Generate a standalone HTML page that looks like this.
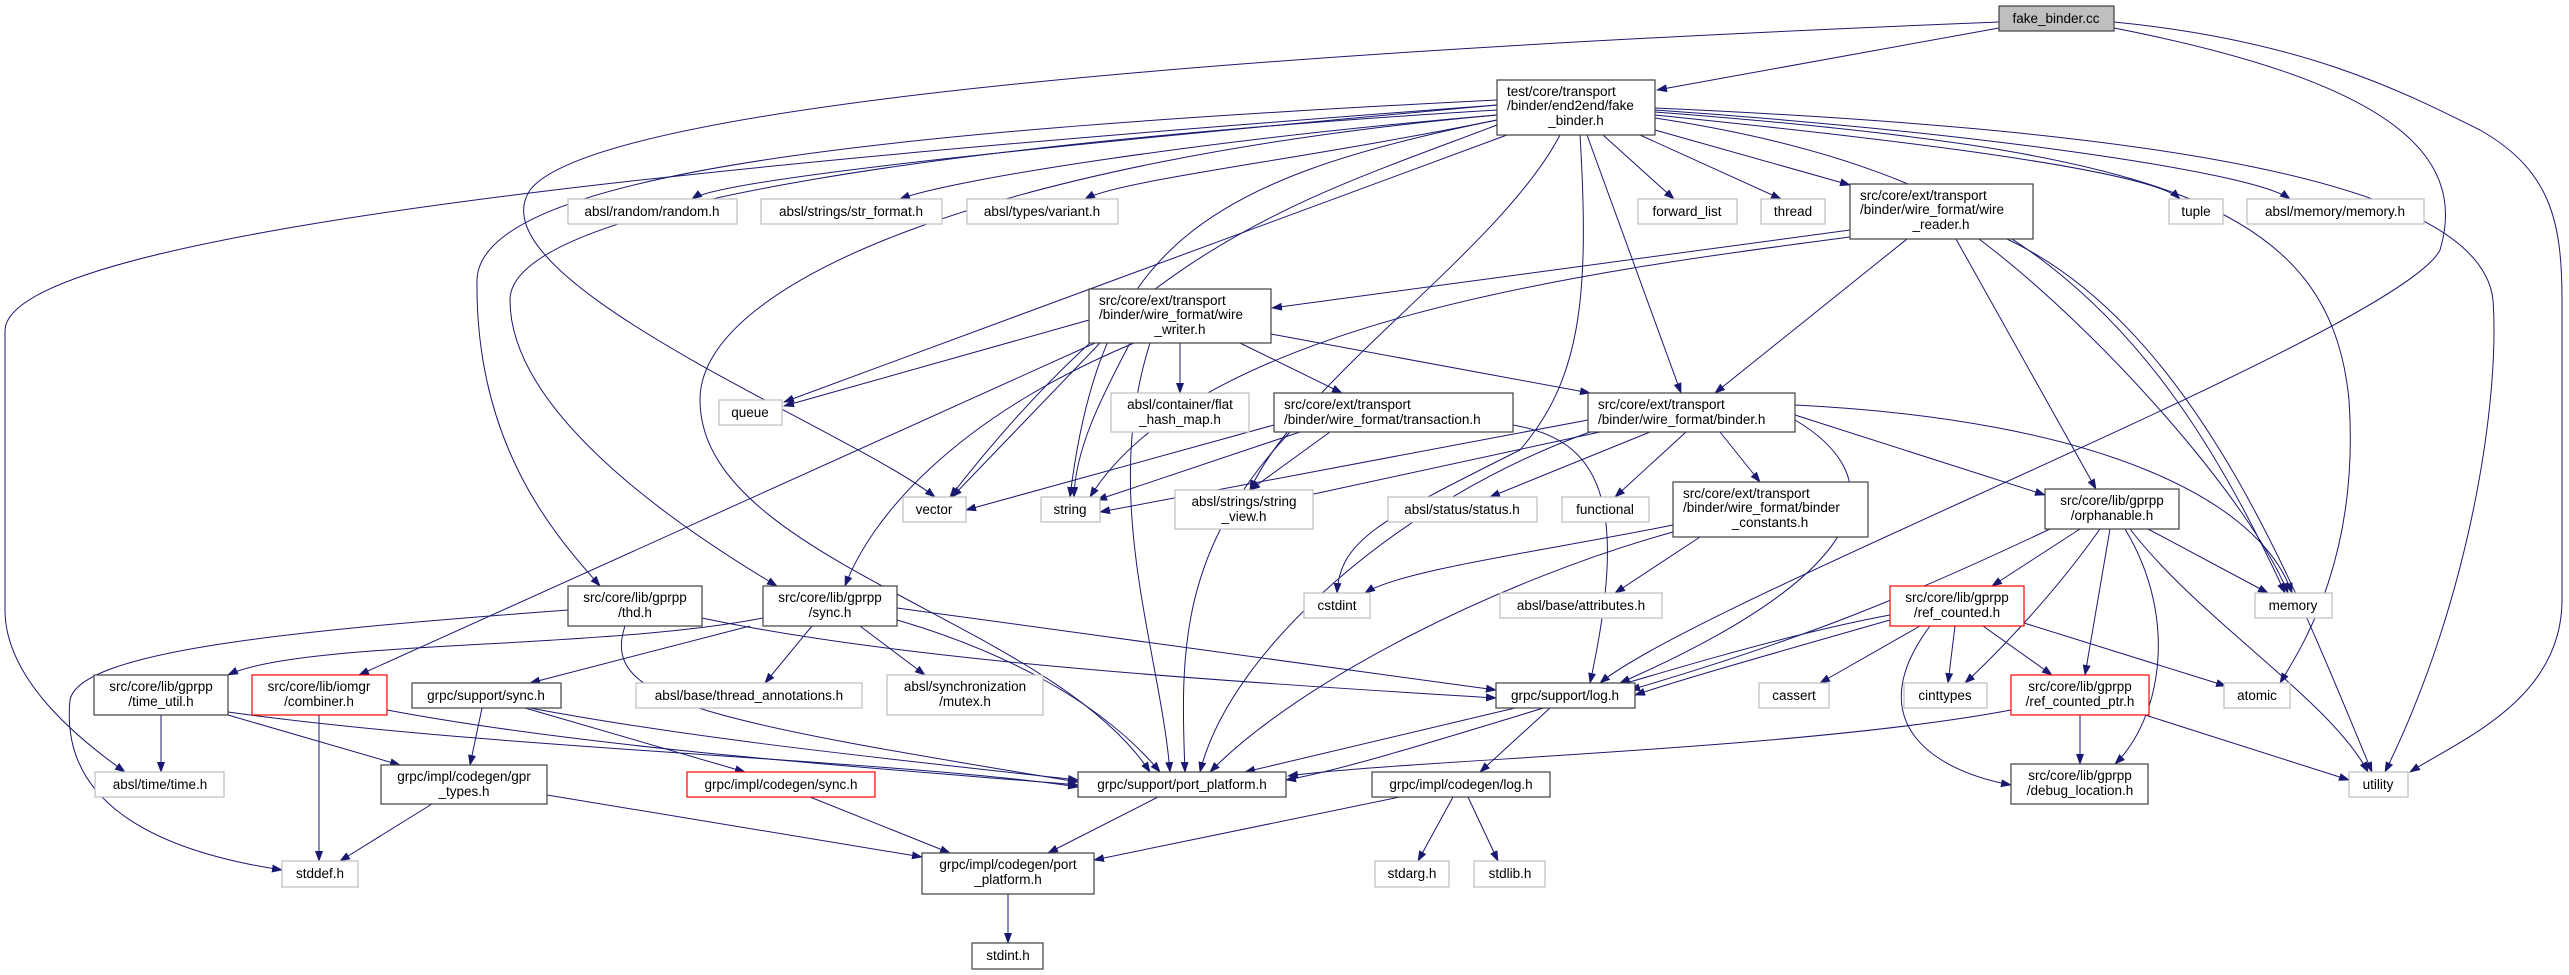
<!DOCTYPE html>
<html><head><meta charset="utf-8"><style>
html,body{margin:0;padding:0;background:#fff;}
svg{display:block;}
text{font-family:"Liberation Sans",sans-serif;font-size:13.5px;fill:#000;}
.b{fill:#fff;stroke:#404040;stroke-width:1.2;}
.g{fill:#fff;stroke:#bfbfbf;stroke-width:1.2;}
.r{fill:#fff;stroke:#ff0000;stroke-width:1.2;}
.e{fill:none;stroke:#191970;stroke-width:1;marker-end:url(#a);}
</style></head><body>
<svg width="2569" height="975" viewBox="0 0 2569 975" xmlns="http://www.w3.org/2000/svg">
<defs><marker id="a" markerWidth="11" markerHeight="8" refX="10" refY="4" orient="auto" markerUnits="userSpaceOnUse"><path d="M0,0 L11,4 L0,8 z" fill="#191970"/></marker></defs>
<g>
<path class="e" d="M1999,28 L1657,90"/>
<path class="e" d="M1999,22 C1300,50 600,100 530,190 C470,280 850,430 935,497"/>
<path class="e" d="M2114,28 C2380,80 2470,150 2440,250 C2400,330 1700,600 1600,683"/>
<path class="e" d="M2114,22 C2300,40 2400,90 2480,130 C2550,170 2562,220 2562,300 L2562,600 C2562,700 2460,740 2410,772"/>
<path class="e" d="M1497,105 C900,150 10,220 5,330 L5,610 C5,680 80,740 125,772"/>
<path class="e" d="M1497,100 C900,130 480,170 477,280 C475,450 560,540 600,586"/>
<path class="e" d="M1497,110 C1000,140 510,200 510,300 C510,420 700,540 777,586"/>
<path class="e" d="M1497,115 C1000,160 700,280 700,400 C700,560 1050,620 1150,772"/>
<path class="e" d="M1497,120 C1200,180 1100,250 1070,497"/>
<path class="e" d="M1507,135 L784,402"/>
<path class="e" d="M1497,125 C1300,200 1150,240 950,497"/>
<path class="e" d="M1497,105 C1000,150 720,180 692,199"/>
<path class="e" d="M1497,115 C1200,140 950,180 900,199"/>
<path class="e" d="M1497,120 C1300,160 1120,180 1085,199"/>
<path class="e" d="M1603,135 L1674,199"/>
<path class="e" d="M1640,135 L1781,199"/>
<path class="e" d="M1655,130 L1850,185"/>
<path class="e" d="M1655,115 C1900,140 2150,170 2180,199"/>
<path class="e" d="M1655,110 C1950,130 2250,170 2290,199"/>
<path class="e" d="M1655,118 C2000,170 2150,300 2285,593"/>
<path class="e" d="M1655,112 C2150,150 2330,200 2349,400 C2360,560 2300,650 2280,683"/>
<path class="e" d="M1655,108 C2150,130 2480,180 2493,300 C2500,400 2470,600 2385,772"/>
<path class="e" d="M1580,135 C1590,300 1580,380 1520,450 C1380,520 1340,540 1337,593"/>
<path class="e" d="M1587,135 L1681,393"/>
<path class="e" d="M1560,135 C1500,250 1300,380 1250,490"/>
<path class="e" d="M1850,230 L1272,308"/>
<path class="e" d="M1907,239 L1715,393"/>
<path class="e" d="M1956,239 L2096,489"/>
<path class="e" d="M1979,239 C2100,330 2250,500 2288,593"/>
<path class="e" d="M2007,239 C2200,330 2300,600 2372,772"/>
<path class="e" d="M1850,237 C1600,270 1200,320 1090,497"/>
<path class="e" d="M1089,320 L784,406"/>
<path class="e" d="M1100,343 L952,497"/>
<path class="e" d="M1130,343 C1100,400 1075,450 1074,497"/>
<path class="e" d="M1180,343 L1180,393"/>
<path class="e" d="M1240,343 L1342,393"/>
<path class="e" d="M1271,334 L1590,393"/>
<path class="e" d="M1134,343 C950,420 870,520 845,586"/>
<path class="e" d="M1095,343 L359,675"/>
<path class="e" d="M1150,343 C1100,500 1160,650 1170,772"/>
<path class="e" d="M1274,425 L966,510"/>
<path class="e" d="M1300,432 L1097,500"/>
<path class="e" d="M1330,432 L1250,490"/>
<path class="e" d="M1290,432 C1180,550 1180,650 1185,772"/>
<path class="e" d="M1513,425 C1600,440 1630,500 1590,683"/>
<path class="e" d="M1588,420 L1100,512"/>
<path class="e" d="M1600,432 L1300,497"/>
<path class="e" d="M1650,432 L1490,497"/>
<path class="e" d="M1686,432 L1615,497"/>
<path class="e" d="M1720,432 L1760,482"/>
<path class="e" d="M1795,415 L2045,495"/>
<path class="e" d="M1795,405 C2100,420 2260,500 2292,593"/>
<path class="e" d="M1795,420 C1880,470 1900,560 1620,683"/>
<path class="e" d="M1590,432 C1400,500 1230,650 1200,772"/>
<path class="e" d="M1673,525 C1550,550 1400,570 1365,593"/>
<path class="e" d="M1700,537 L1615,593"/>
<path class="e" d="M1673,532 C1500,580 1300,680 1210,772"/>
<path class="e" d="M2080,529 L1992,586"/>
<path class="e" d="M2148,529 L2268,593"/>
<path class="e" d="M2100,529 C2050,600 1990,660 1965,683"/>
<path class="e" d="M2110,529 L2085,675"/>
<path class="e" d="M2125,529 C2180,620 2160,720 2115,764"/>
<path class="e" d="M2130,529 C2200,620 2330,700 2368,772"/>
<path class="e" d="M2050,529 C1900,600 1800,640 1630,690"/>
<path class="e" d="M1920,626 L1820,683"/>
<path class="e" d="M1955,626 L1948,683"/>
<path class="e" d="M1983,626 L2052,675"/>
<path class="e" d="M2024,623 L2226,686"/>
<path class="e" d="M1930,626 C1860,720 1930,770 2011,785"/>
<path class="e" d="M1890,620 C1750,660 1680,680 1635,695"/>
<path class="e" d="M1890,615 C1700,650 1400,760 1286,780"/>
<path class="e" d="M2080,715 L2080,764"/>
<path class="e" d="M2145,715 L2349,780"/>
<path class="e" d="M2011,710 C1800,750 1400,760 1288,776"/>
<path class="e" d="M568,610 C300,630 80,650 70,700 C60,800 150,850 282,870"/>
<path class="e" d="M702,618 C900,660 1200,680 1496,698"/>
<path class="e" d="M625,626 C600,700 700,720 1078,782"/>
<path class="e" d="M763,618 C600,650 300,640 228,675"/>
<path class="e" d="M750,626 L530,683"/>
<path class="e" d="M812,626 L765,683"/>
<path class="e" d="M860,626 L925,675"/>
<path class="e" d="M897,620 C1000,650 1100,700 1160,772"/>
<path class="e" d="M897,608 L1496,690"/>
<path class="e" d="M161,715 L161,772"/>
<path class="e" d="M228,715 L400,765"/>
<path class="e" d="M228,712 C500,750 900,760 1078,787"/>
<path class="e" d="M319,715 L319,861"/>
<path class="e" d="M387,710 C600,750 900,770 1078,785"/>
<path class="e" d="M482,708 L470,765"/>
<path class="e" d="M525,708 L745,772"/>
<path class="e" d="M530,708 C700,740 900,760 1078,780"/>
<path class="e" d="M432,804 L340,861"/>
<path class="e" d="M547,795 L922,857"/>
<path class="e" d="M810,797 L950,853"/>
<path class="e" d="M1515,708 L1245,772"/>
<path class="e" d="M1550,708 L1480,772"/>
<path class="e" d="M1400,797 L1094,860"/>
<path class="e" d="M1453,797 L1418,861"/>
<path class="e" d="M1468,797 L1498,861"/>
<path class="e" d="M1158,797 L1048,853"/>
<path class="e" d="M1008,894 L1008,943"/>
</g>
<g>
<rect x="1999" y="6" width="115" height="25" fill="#bfbfbf" stroke="#404040" stroke-width="1.2"/><text x="2056" y="23" text-anchor="middle">fake_binder.cc</text>
<rect class="b" x="1497" y="80" width="158" height="55"/><text x="1507" y="96">test/core/transport</text><text x="1507" y="110">/binder/end2end/fake</text><text x="1576" y="125" text-anchor="middle">_binder.h</text>
<rect class="g" x="568" y="199" width="169" height="25"/><text x="652" y="216" text-anchor="middle">absl/random/random.h</text>
<rect class="g" x="761" y="199" width="181" height="25"/><text x="851" y="216" text-anchor="middle">absl/strings/str_format.h</text>
<rect class="g" x="967" y="199" width="151" height="25"/><text x="1042" y="216" text-anchor="middle">absl/types/variant.h</text>
<rect class="g" x="1638" y="199" width="99" height="25"/><text x="1687" y="216" text-anchor="middle">forward_list</text>
<rect class="g" x="1761" y="199" width="64" height="25"/><text x="1793" y="216" text-anchor="middle">thread</text>
<rect class="b" x="1850" y="184" width="183" height="55"/><text x="1860" y="200">src/core/ext/transport</text><text x="1860" y="214">/binder/wire_format/wire</text><text x="1941" y="229" text-anchor="middle">_reader.h</text>
<rect class="g" x="2169" y="199" width="54" height="25"/><text x="2196" y="216" text-anchor="middle">tuple</text>
<rect class="g" x="2247" y="199" width="177" height="25"/><text x="2335" y="216" text-anchor="middle">absl/memory/memory.h</text>
<rect class="g" x="719" y="400" width="63" height="25"/><text x="750" y="417" text-anchor="middle">queue</text>
<rect class="b" x="1089" y="289" width="182" height="54"/><text x="1099" y="305">src/core/ext/transport</text><text x="1099" y="319">/binder/wire_format/wire</text><text x="1180" y="334" text-anchor="middle">_writer.h</text>
<rect class="g" x="1111" y="393" width="138" height="39"/><text x="1180" y="409" text-anchor="middle">absl/container/flat</text><text x="1180" y="424" text-anchor="middle">_hash_map.h</text>
<rect class="b" x="1274" y="393" width="239" height="39"/><text x="1284" y="409">src/core/ext/transport</text><text x="1284" y="424">/binder/wire_format/transaction.h</text>
<rect class="b" x="1588" y="393" width="207" height="39"/><text x="1598" y="409">src/core/ext/transport</text><text x="1598" y="424">/binder/wire_format/binder.h</text>
<rect class="g" x="903" y="497" width="63" height="25"/><text x="934" y="514" text-anchor="middle">vector</text>
<rect class="g" x="1041" y="497" width="59" height="25"/><text x="1070" y="514" text-anchor="middle">string</text>
<rect class="g" x="1175" y="490" width="138" height="39"/><text x="1244" y="506" text-anchor="middle">absl/strings/string</text><text x="1244" y="521" text-anchor="middle">_view.h</text>
<rect class="g" x="1388" y="497" width="149" height="25"/><text x="1462" y="514" text-anchor="middle">absl/status/status.h</text>
<rect class="g" x="1562" y="497" width="87" height="25"/><text x="1605" y="514" text-anchor="middle">functional</text>
<rect class="b" x="1673" y="482" width="195" height="55"/><text x="1683" y="498">src/core/ext/transport</text><text x="1683" y="512">/binder/wire_format/binder</text><text x="1770" y="527" text-anchor="middle">_constants.h</text>
<rect class="b" x="2045" y="489" width="134" height="40"/><text x="2112" y="505" text-anchor="middle">src/core/lib/gprpp</text><text x="2112" y="520" text-anchor="middle">/orphanable.h</text>
<rect class="g" x="2255" y="593" width="77" height="25"/><text x="2293" y="610" text-anchor="middle">memory</text>
<rect class="b" x="568" y="586" width="134" height="40"/><text x="635" y="602" text-anchor="middle">src/core/lib/gprpp</text><text x="635" y="617" text-anchor="middle">/thd.h</text>
<rect class="b" x="763" y="586" width="134" height="40"/><text x="830" y="602" text-anchor="middle">src/core/lib/gprpp</text><text x="830" y="617" text-anchor="middle">/sync.h</text>
<rect class="g" x="1304" y="593" width="66" height="25"/><text x="1337" y="610" text-anchor="middle">cstdint</text>
<rect class="g" x="1500" y="593" width="162" height="25"/><text x="1581" y="610" text-anchor="middle">absl/base/attributes.h</text>
<rect class="r" x="1890" y="586" width="134" height="40"/><text x="1957" y="602" text-anchor="middle">src/core/lib/gprpp</text><text x="1957" y="617" text-anchor="middle">/ref_counted.h</text>
<rect class="b" x="94" y="675" width="134" height="40"/><text x="161" y="691" text-anchor="middle">src/core/lib/gprpp</text><text x="161" y="706" text-anchor="middle">/time_util.h</text>
<rect class="r" x="252" y="675" width="135" height="40"/><text x="319" y="691" text-anchor="middle">src/core/lib/iomgr</text><text x="319" y="706" text-anchor="middle">/combiner.h</text>
<rect class="b" x="412" y="683" width="149" height="25"/><text x="486" y="700" text-anchor="middle">grpc/support/sync.h</text>
<rect class="g" x="636" y="683" width="226" height="25"/><text x="749" y="700" text-anchor="middle">absl/base/thread_annotations.h</text>
<rect class="g" x="887" y="675" width="156" height="40"/><text x="965" y="691" text-anchor="middle">absl/synchronization</text><text x="965" y="706" text-anchor="middle">/mutex.h</text>
<rect class="b" x="1496" y="683" width="139" height="25"/><text x="1565" y="700" text-anchor="middle">grpc/support/log.h</text>
<rect class="g" x="1759" y="683" width="70" height="25"/><text x="1794" y="700" text-anchor="middle">cassert</text>
<rect class="g" x="1904" y="683" width="83" height="25"/><text x="1945" y="700" text-anchor="middle">cinttypes</text>
<rect class="r" x="2011" y="675" width="138" height="40"/><text x="2080" y="691" text-anchor="middle">src/core/lib/gprpp</text><text x="2080" y="706" text-anchor="middle">/ref_counted_ptr.h</text>
<rect class="g" x="2224" y="683" width="66" height="25"/><text x="2257" y="700" text-anchor="middle">atomic</text>
<rect class="g" x="95" y="772" width="129" height="25"/><text x="160" y="789" text-anchor="middle">absl/time/time.h</text>
<rect class="b" x="381" y="765" width="166" height="39"/><text x="464" y="781" text-anchor="middle">grpc/impl/codegen/gpr</text><text x="464" y="796" text-anchor="middle">_types.h</text>
<rect class="r" x="687" y="772" width="188" height="25"/><text x="781" y="789" text-anchor="middle">grpc/impl/codegen/sync.h</text>
<rect class="b" x="1078" y="772" width="208" height="25"/><text x="1182" y="789" text-anchor="middle">grpc/support/port_platform.h</text>
<rect class="b" x="1372" y="772" width="178" height="25"/><text x="1461" y="789" text-anchor="middle">grpc/impl/codegen/log.h</text>
<rect class="b" x="2011" y="764" width="137" height="40"/><text x="2080" y="780" text-anchor="middle">src/core/lib/gprpp</text><text x="2080" y="795" text-anchor="middle">/debug_location.h</text>
<rect class="g" x="2349" y="772" width="59" height="25"/><text x="2378" y="789" text-anchor="middle">utility</text>
<rect class="g" x="282" y="861" width="76" height="26"/><text x="320" y="878" text-anchor="middle">stddef.h</text>
<rect class="b" x="922" y="853" width="172" height="41"/><text x="1008" y="869" text-anchor="middle">grpc/impl/codegen/port</text><text x="1008" y="884" text-anchor="middle">_platform.h</text>
<rect class="g" x="1375" y="861" width="74" height="26"/><text x="1412" y="878" text-anchor="middle">stdarg.h</text>
<rect class="g" x="1474" y="861" width="71" height="26"/><text x="1510" y="878" text-anchor="middle">stdlib.h</text>
<rect class="b" x="972" y="943" width="71" height="26"/><text x="1008" y="960" text-anchor="middle">stdint.h</text>
</g>
</svg>
</body></html>
